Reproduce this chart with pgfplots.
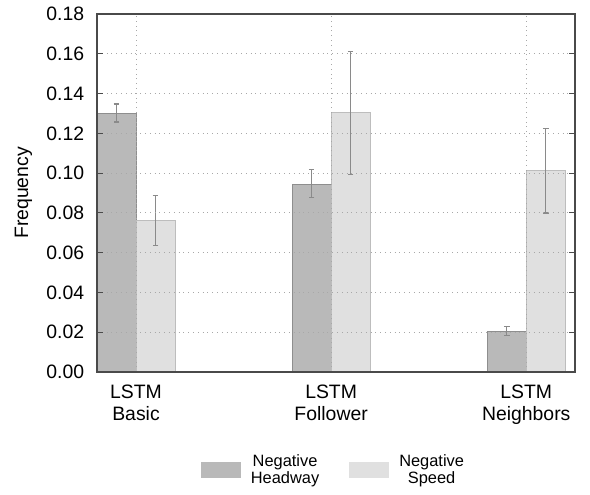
\documentclass[border=0pt]{standalone}
\usepackage{pgfplots}
\pgfplotsset{compat=1.18}
\usepackage{fontspec}
\setmainfont{Liberation Sans}
\definecolor{darkbar}{HTML}{B9B9B9}
\definecolor{darkedge}{HTML}{8E8E8E}
\definecolor{lightbar}{HTML}{E0E0E0}
\definecolor{lightedge}{HTML}{BDBDBD}
\definecolor{errc}{HTML}{8A8A8A}
\definecolor{gridc}{HTML}{A8A8A8}
\definecolor{axc}{HTML}{4A4A4A}
\begin{document}
\fontsize{9.7}{11.2}\selectfont
\begin{tikzpicture}
\begin{axis}[
  scale only axis,
  width=239pt, height=179pt,
  xmin=-0.2, xmax=2.25,
  ymin=0, ymax=0.18,
  xtick={0,1,2},
  xticklabels={{LSTM\\Basic},{LSTM\\Follower},{LSTM\\Neighbors}},
  xticklabel style={align=center, font=\fontsize{9.7}{11.2}\selectfont, yshift=-3pt},
  x tick style={draw=none},
  ytick={0,0.02,...,0.18},
  yticklabel style={/pgf/number format/fixed, /pgf/number format/fixed zerofill, /pgf/number format/precision=2, font=\fontsize{9.7}{11.2}\selectfont, xshift=-3pt},
  /pgf/number format/assume math mode=true,
  y tick style={axc, line width=0.5pt},
  major tick length=3pt,
  tick align=inside,
  ylabel={Frequency},
  ylabel style={font=\fontsize{9.7}{11.2}\selectfont},
  ylabel shift=0.5pt,
  grid=major,
  major grid style={gridc, dotted, line width=0.5pt},
  axis line style={axc, line width=0.7pt},
  axis on top,
  clip=false,
  legend style={draw=none, fill=none, at={(0.503,0)}, anchor=north, yshift=-37pt,
    legend columns=2, font=\fontsize{8.2}{8.6}\selectfont,
    /tikz/every even column/.append style={column sep=10pt},
    nodes={align=center, inner xsep=5pt}},
  legend cell align=center,
]
\addplot[ybar, bar width=0.2, bar shift=0pt, fill=darkbar, draw=darkedge, line width=0.5pt,
  legend image code/.code={\fill[darkbar] (0pt,-3.75pt) rectangle (19.5pt,3.75pt);},
  error bars/.cd, y dir=both, y explicit,
  error bar style={errc, line width=0.6pt},
  error mark options={rotate=90, mark size=1.4pt, errc, line width=0.6pt}]
coordinates {
  (-0.1,0.1301) += (0,0.0046) -= (0,0.0044)
  (0.9,0.0945) += (0,0.0072) -= (0,0.0067)
  (1.9,0.0206) += (0,0.0022) -= (0,0.0022)
};
\addlegendentry{Negative\\Headway}
\addplot[ybar, bar width=0.2, bar shift=0pt, fill=lightbar, draw=lightedge, line width=0.5pt,
  legend image code/.code={\fill[lightbar] (0pt,-3.75pt) rectangle (19.5pt,3.75pt);},
  error bars/.cd, y dir=both, y explicit,
  error bar style={errc, line width=0.6pt},
  error mark options={rotate=90, mark size=1.4pt, errc, line width=0.6pt}]
coordinates {
  (0.1,0.0761) += (0,0.0127) -= (0,0.0124)
  (1.1,0.1304) += (0,0.0306) -= (0,0.0312)
  (2.1,0.1011) += (0,0.0214) -= (0,0.0212)
};
\addlegendentry{Negative\\Speed}
\coordinate (SW) at (rel axis cs:0,0);
\coordinate (NE) at (rel axis cs:1,1);
\end{axis}
\useasboundingbox ([xshift=-48.5pt,yshift=-57pt]SW) rectangle ([xshift=7.5pt,yshift=7pt]NE);
\end{tikzpicture}
\end{document}
